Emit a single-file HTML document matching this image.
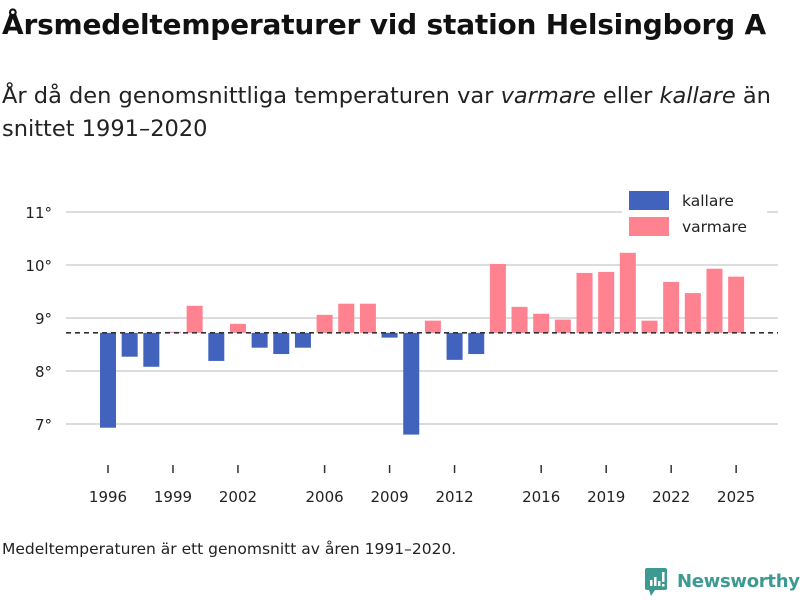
<!DOCTYPE html>
<html><head><meta charset="utf-8"><style>
body{margin:0;width:800px;height:600px;background:#fff;font-family:"DejaVu Sans","Liberation Sans",sans-serif;overflow:hidden;position:relative;color:#111}
.t{position:absolute;left:2px;top:8px;font-size:28px;font-weight:bold;letter-spacing:-0.2px;white-space:nowrap}
.s{position:absolute;left:2px;top:80px;font-size:22.5px;line-height:33px;color:#222;white-space:nowrap}
.f{position:absolute;left:2px;top:540px;font-size:15.5px;color:#222;white-space:nowrap}
.logo{position:absolute;left:645px;top:566px;display:flex;align-items:center;color:#3d9a92;font-size:18px;font-weight:bold;white-space:nowrap;letter-spacing:-0.3px}
</style></head><body>
<div class="t">Årsmedeltemperaturer vid station Helsingborg A</div>
<div class="s">År då den genomsnittliga temperaturen var <i>varmare</i> eller <i>kallare</i> än<br>snittet 1991–2020</div>
<svg id="c" width="800" height="600" style="position:absolute;left:0;top:0"></svg>
<div class="f">Medeltemperaturen är ett genomsnitt av åren 1991–2020.</div>
<div class="logo"><svg width="24" height="30" style="margin-right:8px"><rect x="0" y="2" width="22" height="22" rx="2" fill="#3d9a92"/><polygon points="4,24 10,24 6,30" fill="#3d9a92"/><rect x="5" y="14" width="2.5" height="6" fill="#fff"/><rect x="9" y="11" width="2.5" height="9" fill="#fff"/><rect x="13" y="15" width="2.5" height="5" fill="#fff"/><rect x="17" y="6" width="2.5" height="10" fill="#fff"/><rect x="17" y="18" width="2.5" height="2.5" fill="#fff"/></svg>Newsworthy</div>
<script>
const years=[1996,1997,1998,1999,2000,2001,2002,2003,2004,2005,2006,2007,2008,2009,2010,2011,2012,2013,2014,2015,2016,2017,2018,2019,2020,2021,2022,2023,2024,2025];
const temps=[6.93,8.27,8.08,8.74,9.23,8.19,8.89,8.44,8.32,8.44,9.06,9.27,9.27,8.63,6.80,8.95,8.21,8.32,10.02,9.21,9.08,8.97,9.85,9.87,10.23,8.95,9.68,9.47,9.93,9.78];
const mean=8.72;
const yTicks=[7,8,9,10,11];
const xTicks=[1996,1999,2002,2006,2009,2012,2016,2019,2022,2025];
const NS="http://www.w3.org/2000/svg",svg=document.getElementById('c');
const x=v=>108+(v-1996)*21.66, y=v=>318-(v-9)*53;
function mk(t,a,p){const e=document.createElementNS(NS,t);for(const k in a)e.setAttribute(k,a[k]);(p||svg).appendChild(e);return e;}
yTicks.forEach(v=>{
 const l=mk('line',{x1:66,x2:778,y1:y(v),y2:y(v),stroke:'#dcdcdc','stroke-width':2});
 
 
 const t=mk('text',{x:52,y:y(v)+6,'text-anchor':'end','font-size':15,fill:'#222'});t.textContent=v+'°';
 
 
});
years.forEach((yr,i)=>{
 const v=temps[i],top=Math.min(y(v),y(mean)),h=Math.abs(y(v)-y(mean));
 const r=mk('rect',{x:x(yr)-8,y:top,width:16,height:Math.max(h,0.5),fill:v>=mean?'#ff8290':'#4263bd'});
 
 
});
const d=mk('line',{x1:66,x2:778,y1:y(mean),y2:y(mean),stroke:'#333','stroke-width':1.6,'stroke-dasharray':'5,4'});


xTicks.forEach(v=>{
 mk('line',{x1:x(v),x2:x(v),y1:465,y2:473,stroke:'#333','stroke-width':1.5});
 const t=mk('text',{x:x(v),y:502,'text-anchor':'middle','font-size':15,fill:'#222'});t.textContent=v;
 
 
});
const lg=mk('g',{});


mk('rect',{x:622,y:185,width:145,height:55,fill:'#fff'},lg);
mk('rect',{x:629,y:191,width:40,height:19,fill:'#4263bd'},lg);
mk('rect',{x:629,y:217,width:40,height:19,fill:'#ff8290'},lg);
const a=mk('text',{x:682,y:206,'font-size':15.5,fill:'#222'},lg);a.textContent='kallare';
const b=mk('text',{x:682,y:232,'font-size':15.5,fill:'#222'},lg);b.textContent='varmare';
</script>
</body></html>
